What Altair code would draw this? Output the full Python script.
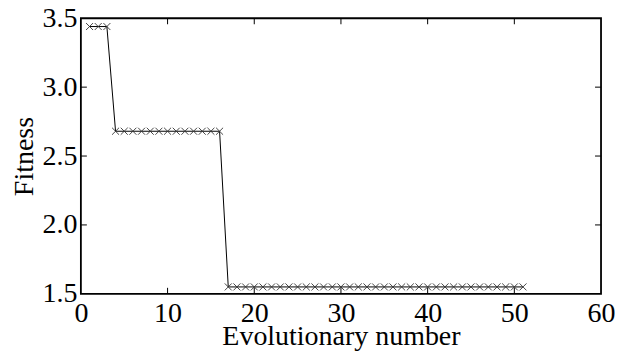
import altair as alt
import pandas as pd

# Data
gen = list(range(1, 52))
fit_vals = [3.44] * 3 + [2.68] * 13 + [1.55] * 35
x_ticks = [10, 20, 30, 40, 50]
y_ticks = [2.0, 2.5, 3.0]

df = pd.DataFrame({"gen": gen, "fitness": fit_vals})
xt = pd.DataFrame({"v": x_ticks})
yt = pd.DataFrame({"v": y_ticks})

W, H = 521, 276
FONT = "Liberation Serif"
FS = 28
TL = 6

xscale = alt.Scale(domain=[0, 60], nice=False, zero=False)
yscale = alt.Scale(domain=[1.5, 3.5], nice=False, zero=False)

xaxis = alt.Axis(values=[0, 10, 20, 30, 40, 50, 60], format="d", ticks=False, grid=False,
                 domain=False, labelFont=FONT, labelFontSize=FS, labelColor="black",
                 labelBaseline="alphabetic", labelPadding=28, labelFlush=False,
                 title="Evolutionary number", titleFont=FONT, titleFontSize=FS,
                 titleFontWeight="normal", titleColor="black",
                 titleBaseline="alphabetic", titleY=51)
yaxis = alt.Axis(values=[1.5, 2.0, 2.5, 3.0, 3.5], format=".1f", ticks=False, grid=False,
                 domain=False, labelFont=FONT, labelFontSize=FS, labelColor="black",
                 labelPadding=4, labelFlush=False, title="Fitness",
                 titleFont=FONT, titleFontSize=FS, titleFontWeight="normal",
                 titleColor="black", titleBaseline="alphabetic", titleX=-48)

line = alt.Chart(df).mark_line(color="black", strokeWidth=1).encode(
    x=alt.X("gen:Q", scale=xscale, axis=xaxis),
    y=alt.Y("fitness:Q", scale=yscale, axis=yaxis),
)
pts = alt.Chart(df).mark_point(shape="M-1,-1L1,1M-1,1L1,-1", size=49, filled=False,
                               color="#333333", strokeWidth=0.9, opacity=1).encode(
    x=alt.X("gen:Q", scale=xscale),
    y=alt.Y("fitness:Q", scale=yscale),
)

tb = alt.Chart(xt).mark_rule(color="black", strokeWidth=1).encode(
    x=alt.X("v:Q", scale=xscale), y=alt.value(H), y2=alt.value(H - TL))
tt = alt.Chart(xt).mark_rule(color="black", strokeWidth=1).encode(
    x=alt.X("v:Q", scale=xscale), y=alt.value(0), y2=alt.value(TL))
tl = alt.Chart(yt).mark_rule(color="black", strokeWidth=1).encode(
    y=alt.Y("v:Q", scale=yscale), x=alt.value(0), x2=alt.value(TL))
tr = alt.Chart(yt).mark_rule(color="black", strokeWidth=1).encode(
    y=alt.Y("v:Q", scale=yscale), x=alt.value(W), x2=alt.value(W - TL))

chart = alt.layer(line, pts, tb, tt, tl, tr).properties(
    width=W, height=H,
    background="white",
    autosize=alt.AutoSizeParams(type="none"),
    padding={"left": 73, "top": 10, "right": 14, "bottom": 57},
).configure_view(stroke="black", strokeWidth=1.8)

chart.save("out.html", embed_options={"renderer": "svg", "actions": False})
